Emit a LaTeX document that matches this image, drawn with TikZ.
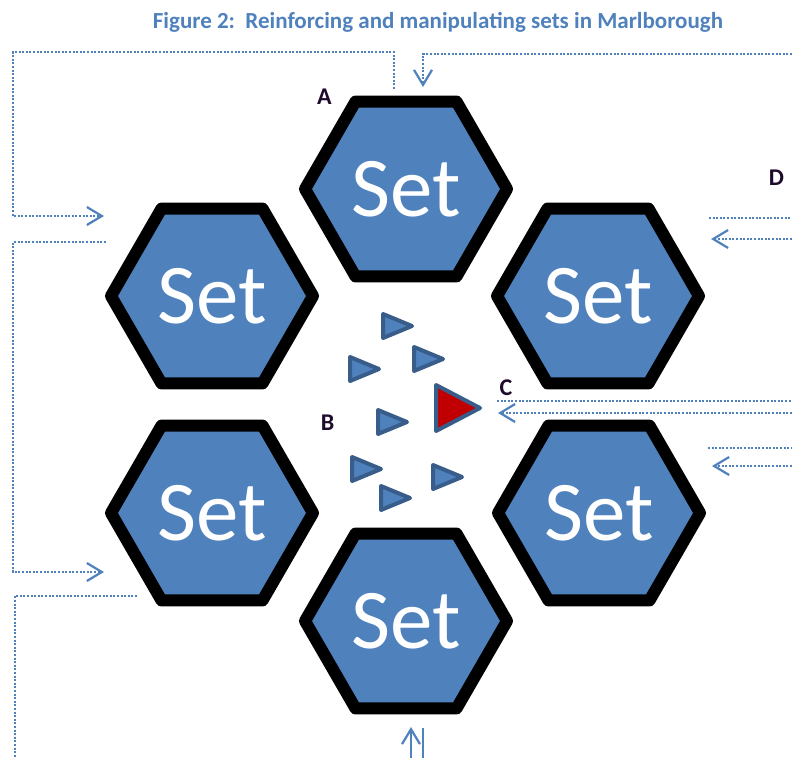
\documentclass[tikz,border=0pt]{standalone}
\usepackage{fontspec}
\setmainfont{Carlito}
\usetikzlibrary{arrows.meta, shapes.geometric}
\definecolor{setBlue}{HTML}{4F81BD}
\definecolor{setEdge}{HTML}{385D8A}
\definecolor{setRed}{HTML}{C00000}
\definecolor{tagInk}{HTML}{1E0B2C}

\begin{document}
\begin{tikzpicture}[x=1pt,y=-1pt,
  sethex/.style={regular polygon,regular polygon sides=6,minimum size=202pt,inner sep=0pt,draw=black,line width=12pt,line join=round,fill=setBlue,text=white,font=\fontsize{85}{85}\selectfont},
  tagtext/.style={font=\fontsize{24}{24}\selectfont\bfseries,text=tagInk,inner sep=0pt},
  feedline/.style={setBlue,line width=2pt,dash pattern=on 2pt off 1.6pt},
  solidline/.style={setBlue,line width=1.8pt},
  inarrow/.style={-{Straight Barb[length=15pt,width=18pt,line width=2.2pt]}},
  tri/.style={draw=setEdge,line width=4pt,line join=round,fill=setBlue}]
\useasboundingbox (0,0) rectangle (792,758);
\node[anchor=base,font=\fontsize{23}{23}\selectfont\bfseries,text=setBlue] (title) at (438,28) {Figure 2:\ \ Reinforcing and manipulating sets in Marlborough};
\node[sethex] (setTop) at (406,189) {Set};
\node[sethex] (setUL) at (212,296) {Set};
\node[sethex] (setUR) at (598,296) {Set};
\node[sethex] (setLL) at (212,513) {Set};
\node[sethex] (setLR) at (599,513) {Set};
\node[sethex] (setBot) at (406,621) {Set};
\newcommand{\pointer}[2]{\draw[tri,shift={(#1,#2)}] (-13,-12) -- (-13,12) -- (16,0) -- cycle;}
\pointer{396}{326}
\pointer{427}{359}
\pointer{363}{369}
\pointer{391}{422}
\pointer{365}{469}
\pointer{446}{477}
\pointer{394}{498}
\draw[tri,fill=setRed,shift={(456,408)}] (-20,-23) -- (-20,23) -- (24,0) -- cycle;
\node[tagtext] (tagA) at (324.5,97) {A};
\node[tagtext] (tagB) at (327.5,423) {B};
\node[tagtext] (tagC) at (506,388) {C};
\node[tagtext] (tagD) at (776.5,178) {D};
\coordinate (aOut) at (394,89);
\coordinate (railTL) at (13,52);
\coordinate (aIn) at (104,216);
\coordinate (bOut) at (106,242);
\coordinate (railML) at (13,572);
\coordinate (bIn) at (104,572);
\coordinate (cOut) at (137,596);
\coordinate (railBL) at (15,758);
\coordinate (railTR) at (792,54);
\coordinate (topIn) at (423,87);
\coordinate (dOut) at (709,218);
\coordinate (dEdge) at (792,218);
\coordinate (dEdgeIn) at (792,239);
\coordinate (dIn) at (711,239);
\coordinate (cSend) at (497,401);
\coordinate (cEdge) at (792,401);
\coordinate (cEdgeIn) at (792,413);
\coordinate (cIn) at (498,413);
\coordinate (eOut) at (708,448);
\coordinate (eEdge) at (792,448);
\coordinate (eEdgeIn) at (792,466);
\coordinate (eIn) at (712,466);
\coordinate (botEdge) at (411,758);
\coordinate (botIn) at (411,727);
\coordinate (botOut) at (423,728);
\coordinate (botEdgeOut) at (423,758);
\draw[feedline,inarrow] (aOut) |- (railTL) |- (aIn);
\draw[feedline,inarrow] (bOut) -| (railML) -- (bIn);
\draw[feedline] (cOut) -| (railBL);
\draw[feedline,inarrow] (railTR) -| (topIn);
\draw[feedline] (dOut) -- (dEdge);
\draw[feedline,inarrow] (dEdgeIn) -- (dIn);
\draw[feedline] (cSend) -- (cEdge);
\draw[feedline,inarrow] (cEdgeIn) -- (cIn);
\draw[feedline] (eOut) -- (eEdge);
\draw[feedline,inarrow] (eEdgeIn) -- (eIn);
\draw[solidline,inarrow] (botEdge) -- (botIn);
\draw[solidline] (botOut) -- (botEdgeOut);
\end{tikzpicture}
\end{document}
